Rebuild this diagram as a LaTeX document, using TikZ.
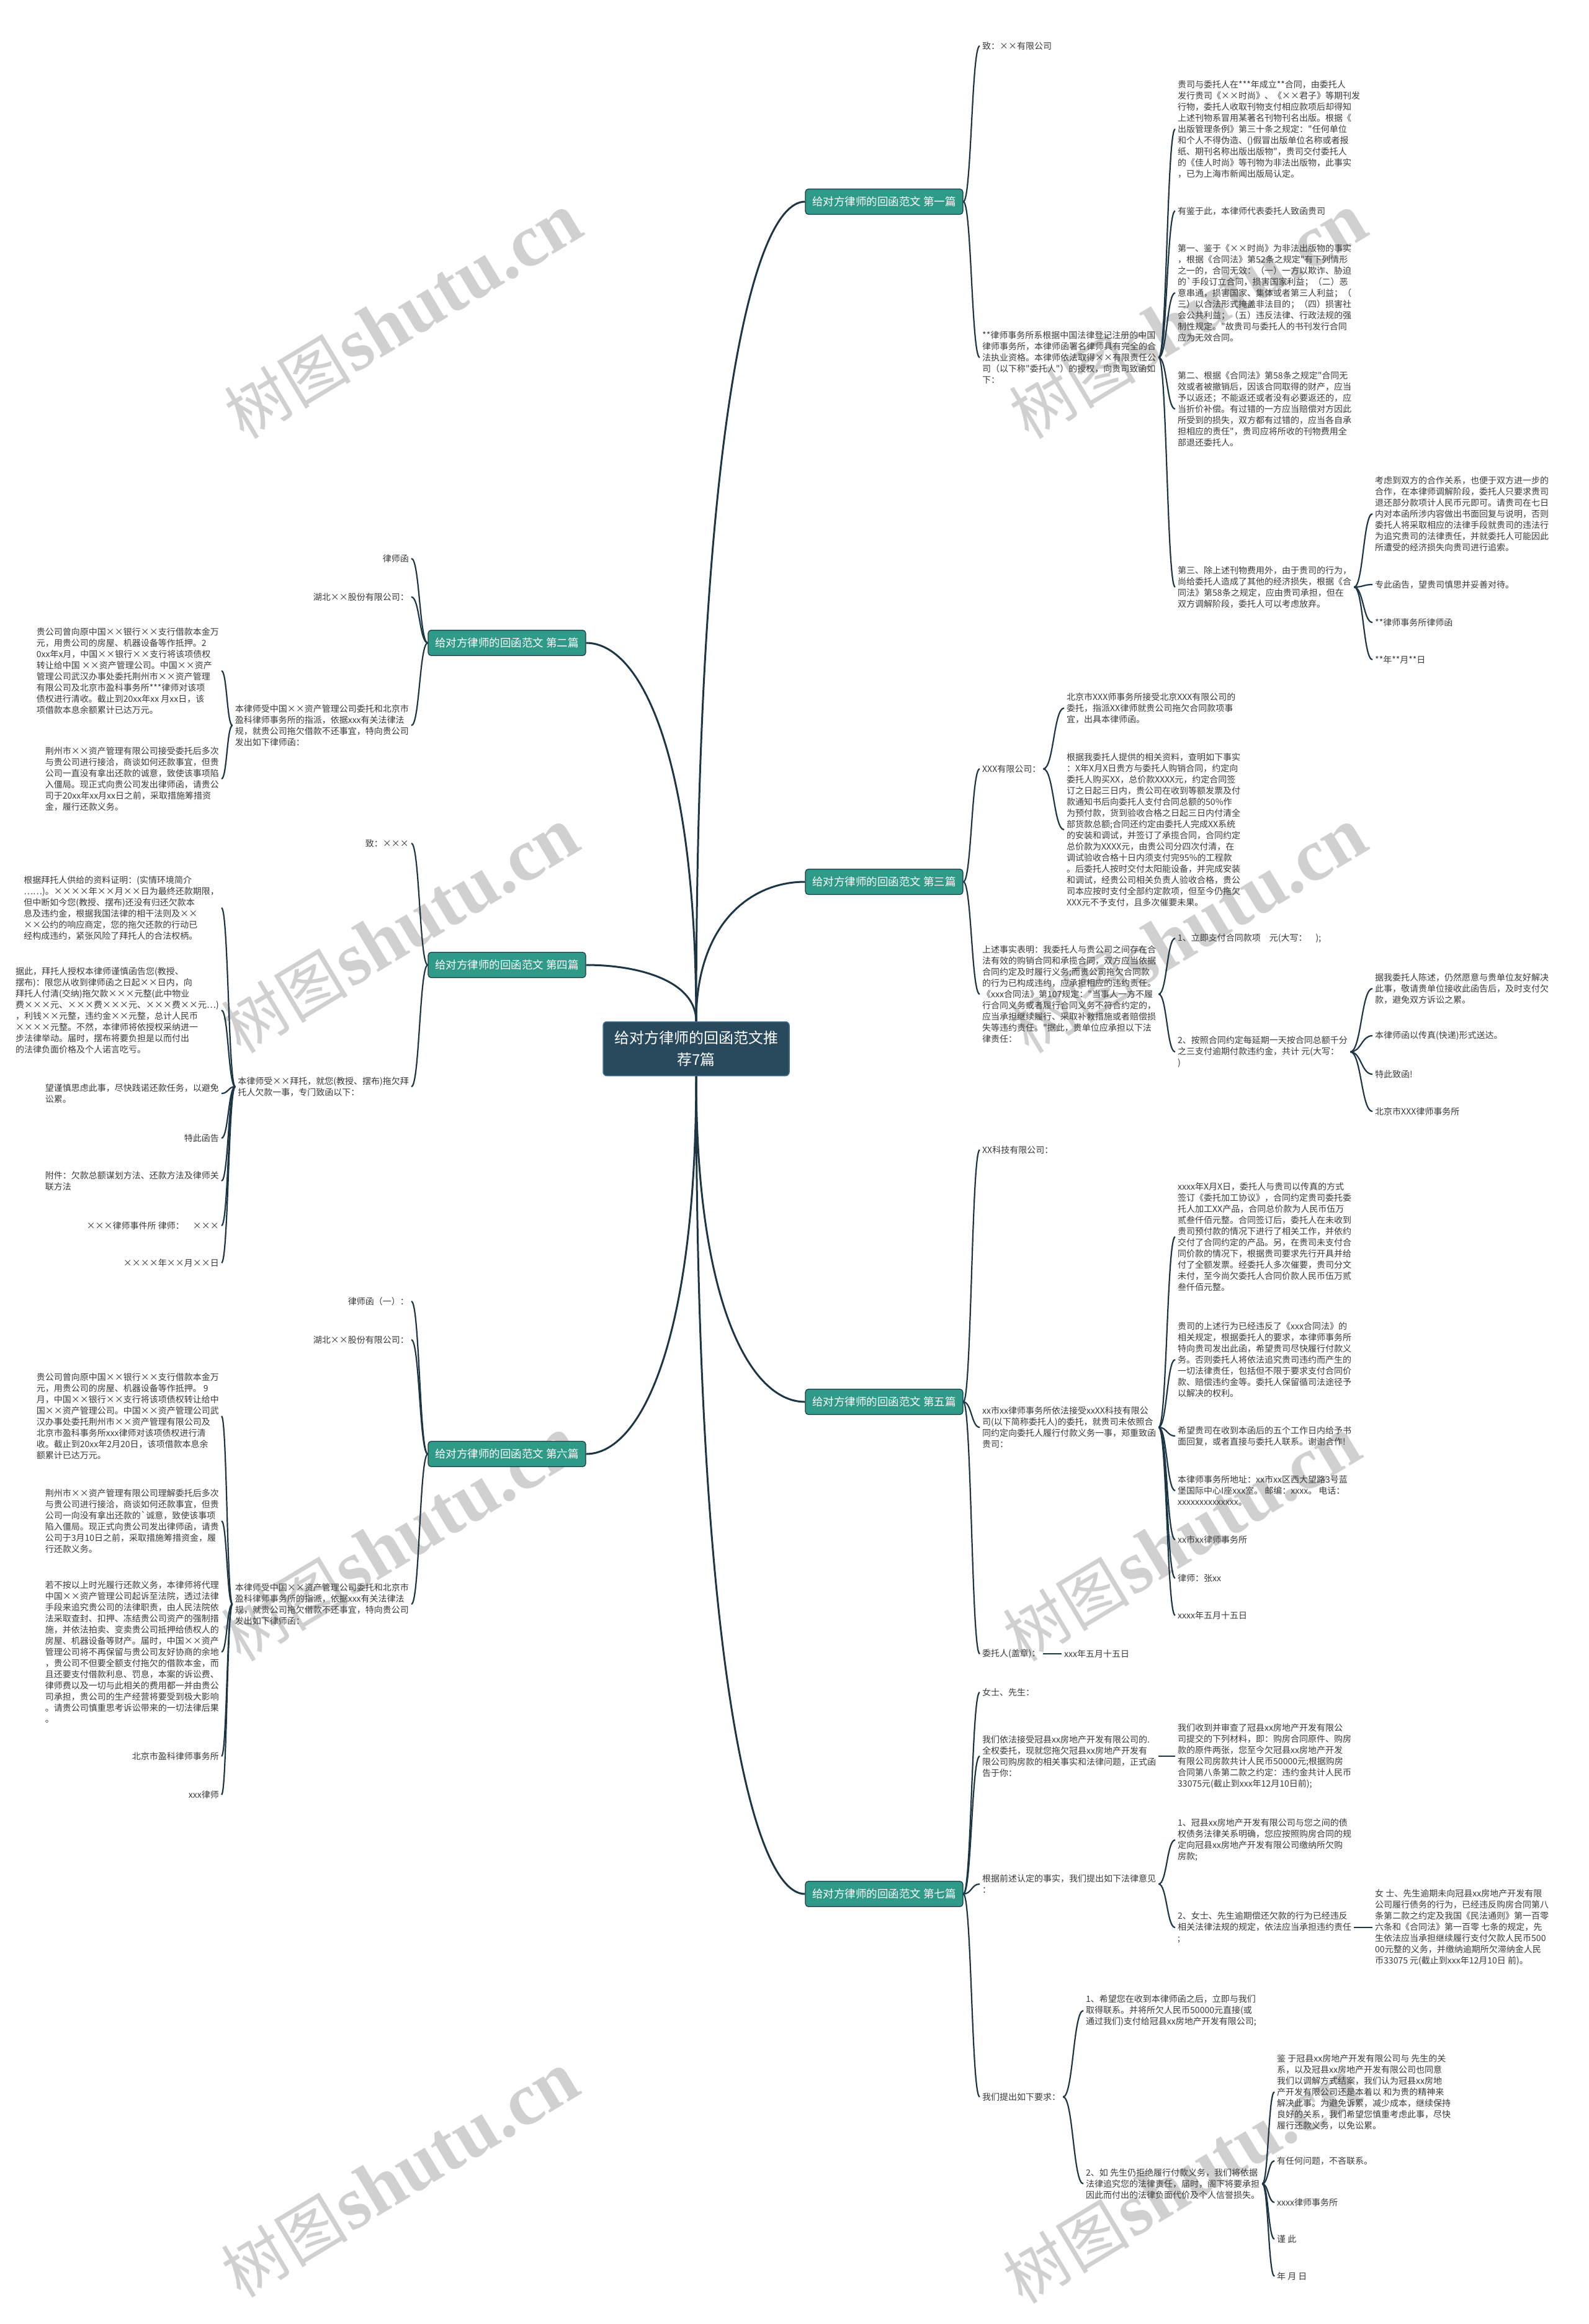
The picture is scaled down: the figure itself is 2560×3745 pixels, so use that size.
\documentclass[tikz,border=0pt]{standalone}
\usepackage{fontspec}
\newfontfamily\cjk{Noto Sans CJK SC}
\newfontfamily\wmserif{Liberation Serif}
\usetikzlibrary{calc}
\definecolor{lineC}{HTML}{1C3645}
\definecolor{cnode}{HTML}{294A5D}
\definecolor{cborder}{HTML}{3F6F96}
\definecolor{bnode}{HTML}{2F9A87}
\definecolor{textC}{HTML}{3A3A3A}
\definecolor{wmC}{HTML}{D0D0D0}
\tikzset{
  centernode/.style={fill=cnode, draw=cborder, line width=1.5pt, rounded corners=6pt, text=white,
    font=\cjk\fontsize{24}{35}\selectfont, align=center, minimum width=300pt, minimum height=87pt, inner sep=0pt},
  branchnode/.style={fill=bnode, draw=lineC, line width=1.2pt, rounded corners=5pt, text=white,
    font=\cjk\fontsize{17.5}{20}\selectfont, minimum width=254pt, minimum height=41pt, inner sep=0pt},
  txt/.style={font=\cjk\fontsize{14}{18}\selectfont, align=left, inner sep=4pt, text=textC},
  rt/.style={txt, anchor=west},
  lt/.style={txt, anchor=east},
  mainlink/.style={draw=lineC, line width=3pt},
  sublink/.style={draw=lineC, line width=2.2pt},
  wm/.style={text=wmC, rotate=31, inner sep=0pt}
}
\newcommand\mlink[2]{\draw[mainlink] (#1) .. controls ($(#1)!0.7!(#1|-#2)$) and ($(#2)!0.5!(#1|-#2)$) .. (#2);}
\newcommand\slink[2]{\draw[sublink] (#1) .. controls ($(#1)!0.5!(#1-|#2)$) and ($(#2)!0.5!(#2-|#1)$) .. (#2);}
\begin{document}
\begin{tikzpicture}[x=1pt,y=-1pt]
\fill[white] (0,0) rectangle (2560,3745);
\useasboundingbox (0,0) rectangle (2560,3745);
% watermarks
\foreach \wx/\wy in {650/510, 1915/510, 645/1500, 1915/1500, 645/2480, 1905/2480, 645/3505, 1905/3515}{
  \node[wm] at (\wx,\wy) {{\cjk\fontsize{102}{106}\selectfont 树图} {\wmserif\bfseries\fontsize{120}{120}\selectfont shutu.cn}};
}
% center and branches
\node[centernode] (C) at (1122,1690) {给对方律师的回函范文推\\荐7篇};
\node[branchnode] (B1) at (1425,325) {给对方律师的回函范文 第一篇};
\node[branchnode] (B3) at (1425,1421) {给对方律师的回函范文 第三篇};
\node[branchnode] (B5) at (1425,2259) {给对方律师的回函范文 第五篇};
\node[branchnode] (B7) at (1425,3052) {给对方律师的回函范文 第七篇};
\node[branchnode] (B2) at (817,1036) {给对方律师的回函范文 第二篇};
\node[branchnode] (B4) at (817,1555) {给对方律师的回函范文 第四篇};
\node[branchnode] (B6) at (817,2343) {给对方律师的回函范文 第六篇};
\mlink{C.north}{B1.west}
\mlink{C.north}{B3.west}
\mlink{C.south}{B5.west}
\mlink{C.south}{B7.west}
\mlink{C.north}{B2.east}
\mlink{C.north}{B4.east}
\mlink{C.south}{B6.east}
% ===== 第一篇 =====
\node[rt] (n1a) at (1579,74) {致：××有限公司};
\node[rt] (n1b) at (1579,576) {**律师事务所系根据中国法律登记注册的中国\\律师事务所，本律师函署名律师具有完全的合\\法执业资格。本律师依法取得××有限责任公\\司（以下称"委托人"）的授权，向贵司致函如\\下：};
\slink{B1.east}{n1a.west}
\slink{B1.east}{n1b.west}
\node[rt] (c1) at (1894,208) {贵司与委托人在***年成立**合同，由委托人\\发行贵司《××时尚》、《××君子》等期刊发\\行物，委托人收取刊物支付相应款项后却得知\\上述刊物系冒用某著名刊物刊名出版。根据《\\出版管理条例》第三十条之规定："任何单位\\和个人不得伪造、()假冒出版单位名称或者报\\纸、期刊名称出版出版物"，贵司交付委托人\\的《佳人时尚》等刊物为非法出版物，此事实\\，已为上海市新闻出版局认定。};
\node[rt] (c2) at (1894,340) {有鉴于此，本律师代表委托人致函贵司};
\node[rt] (c3) at (1894,472) {第一、鉴于《××时尚》为非法出版物的事实\\，根据《合同法》第52条之规定"有下列情形\\之一的，合同无效：（一）一方以欺诈、胁迫\\的`手段订立合同，损害国家利益；（二）恶\\意串通，损害国家、集体或者第三人利益；（\\三）以合法形式掩盖非法目的；（四）损害社\\会公共利益；（五）违反法律、行政法规的强\\制性规定。"故贵司与委托人的书刊发行合同\\应为无效合同。};
\node[rt] (c4) at (1894,659) {第二、根据《合同法》第58条之规定"合同无\\效或者被撤销后，因该合同取得的财产，应当\\予以返还；不能返还或者没有必要返还的，应\\当折价补偿。有过错的一方应当赔偿对方因此\\所受到的损失，双方都有过错的，应当各自承\\担相应的责任"，贵司应将所收的刊物费用全\\部退还委托人。};
\node[rt] (c5) at (1894,946) {第三、除上述刊物费用外，由于贵司的行为，\\尚给委托人造成了其他的经济损失，根据《合\\同法》第58条之规定，应由贵司承担，但在\\双方调解阶段，委托人可以考虑放弃。};
\foreach \k in {c1,c2,c3,c4,c5}{\slink{n1b.east}{\k.west}}
\node[rt] (d1) at (2212,828) {考虑到双方的合作关系，也便于双方进一步的\\合作，在本律师调解阶段，委托人只要求贵司\\退还部分款项计人民币元即可。请贵司在七日\\内对本函所涉内容做出书面回复与说明，否则\\委托人将采取相应的法律手段就贵司的违法行\\为追究贵司的法律责任，并就委托人可能因此\\所遭受的经济损失向贵司进行追索。};
\node[rt] (d2) at (2212,942) {专此函告，望贵司慎思并妥善对待。};
\node[rt] (d3) at (2212,1003) {**律师事务所律师函};
\node[rt] (d4) at (2212,1063) {**年**月**日};
\foreach \k in {d1,d2,d3,d4}{\slink{c5.east}{\k.west}}
% ===== 第三篇 =====
\node[rt] (e1) at (1579,1239) {XXX有限公司：};
\node[rt] (e2) at (1579,1602) {上述事实表明：我委托人与贵公司之间存在合\\法有效的购销合同和承揽合同，双方应当依据\\合同约定及时履行义务;而贵公司拖欠合同款\\的行为已构成违约，应承担相应的违约责任。\\《xxx合同法》第107规定："当事人一方不履\\行合同义务或者履行合同义务不符合约定的，\\应当承担继续履行、采取补救措施或者赔偿损\\失等违约责任。"据此，贵单位应承担以下法\\律责任：};
\slink{B3.east}{e1.west}
\slink{B3.east}{e2.west}
\node[rt] (f1) at (1715,1141) {北京市XXX师事务所接受北京XXX有限公司的\\委托，指派XX律师就贵公司拖欠合同款项事\\宜，出具本律师函。};
\node[rt] (f2) at (1715,1337) {根据我委托人提供的相关资料，查明如下事实\\：X年X月X日贵方与委托人购销合同，约定向\\委托人购买XX，总价款XXXX元，约定合同签\\订之日起三日内，贵公司在收到等额发票及付\\款通知书后向委托人支付合同总额的50\%作\\为预付款，货到验收合格之日起三日内付清全\\部货款总额;合同还约定由委托人完成XX系统\\的安装和调试，并签订了承揽合同，合同约定\\总价款为XXXX元，由贵公司分四次付清，在\\调试验收合格十日内须支付完95\%的工程款\\。后委托人按时交付太阳能设备，并完成安装\\和调试，经贵公司相关负责人验收合格，贵公\\司本应按时支付全部约定款项，但至今仍拖欠\\XXX元不予支付，且多次催要未果。};
\slink{e1.east}{f1.west}
\slink{e1.east}{f2.west}
\node[rt] (g1) at (1894,1512) {1、立即支付合同款项\quad 元(大写：\quad );};
\node[rt] (g2) at (1894,1695) {2、按照合同约定每延期一天按合同总额千分\\之三支付逾期付款违约金，共计 元(大写：\\)};
\slink{e2.east}{g1.west}
\slink{e2.east}{g2.west}
\node[rt] (h1) at (2212,1593) {据我委托人陈述，仍然愿意与贵单位友好解决\\此事，敬请贵单位接收此函告后，及时支付欠\\款，避免双方诉讼之累。};
\node[rt] (h2) at (2212,1669) {本律师函以传真(快递)形式送达。};
\node[rt] (h3) at (2212,1731) {特此致函!};
\node[rt] (h4) at (2212,1791) {北京市XXX律师事务所};
\foreach \k in {h1,h2,h3,h4}{\slink{g2.east}{\k.west}}
% ===== 第五篇 =====
\node[rt] (i1) at (1579,1853) {XX科技有限公司：};
\node[rt] (i2) at (1579,2300) {xx市xx律师事务所依法接受xxXX科技有限公\\司(以下简称委托人)的委托，就贵司未依照合\\同约定向委托人履行付款义务一事，郑重致函\\贵司：};
\node[rt] (i3) at (1579,2665) {委托人(盖章)：};
\node[rt] (i3a) at (1711,2665) {xxx年五月十五日};
\slink{B5.east}{i1.west}
\slink{B5.east}{i2.west}
\slink{B5.east}{i3.west}
\draw[sublink] (i3.east) -- (i3a.west);
\node[rt] (j1) at (1894,1993) {xxxx年X月X日，委托人与贵司以传真的方式\\签订《委托加工协议》，合同约定贵司委托委\\托人加工XX产品，合同总价款为人民币伍万\\贰叁仟佰元整。合同签订后，委托人在未收到\\贵司预付款的情况下进行了相关工作，并依约\\交付了合同约定的产品。另，在贵司未支付合\\同价款的情况下，根据贵司要求先行开具并给\\付了全额发票。经委托人多次催要，贵司分文\\未付，至今尚欠委托人合同价款人民币伍万贰\\叁仟佰元整。};
\node[rt] (j2) at (1894,2191) {贵司的上述行为已经违反了《xxx合同法》的\\相关规定，根据委托人的要求，本律师事务所\\特向贵司发出此函，希望贵司尽快履行付款义\\务。否则委托人将依法追究贵司违约而产生的\\一切法律责任，包括但不限于要求支付合同价\\款、赔偿违约金等。委托人保留循司法途径予\\以解决的权利。};
\node[rt] (j3) at (1894,2314) {希望贵司在收到本函后的五个工作日内给予书\\面回复，或者直接与委托人联系。谢谢合作!};
\node[rt] (j4) at (1894,2402) {本律师事务所地址：xx市xx区西大望路3号蓝\\堡国际中心I座xxx室。 邮编：xxxx。 电话：\\xxxxxxxxxxxxxx。};
\node[rt] (j5) at (1894,2481) {xx市xx律师事务所};
\node[rt] (j6) at (1894,2543) {律师：张xx};
\node[rt] (j7) at (1894,2603) {xxxx年五月十五日};
\foreach \k in {j1,j2,j3,j4,j5,j6,j7}{\slink{i2.east}{\k.west}}
% ===== 第七篇 =====
\node[rt] (k1) at (1579,2727) {女士、先生：};
\node[rt] (k2) at (1579,2830) {我们依法接受冠县xx房地产开发有限公司的.\\全权委托，现就您拖欠冠县xx房地产开发有\\限公司购房款的相关事实和法律问题，正式函\\告于你：};
\node[rt] (k2a) at (1894,2830) {我们收到并审查了冠县xx房地产开发有限公\\司提交的下列材料，即：购房合同原件、购房\\款的原件两张，您至今欠冠县xx房地产开发\\有限公司房款共计人民币50000元;根据购房\\合同第八条第二款之约定：违约金共计人民币\\33075元(截止到xxx年12月10日前);};
\node[rt] (k3) at (1579,3036) {根据前述认定的事实，我们提出如下法律意见\\：};
\node[rt] (k4) at (1579,3379) {我们提出如下要求：};
\foreach \k in {k1,k2,k3,k4}{\slink{B7.east}{\k.west}}
\draw[sublink] (k2.east) -- (k2a.west);
\node[rt] (l1) at (1894,2965) {1、冠县xx房地产开发有限公司与您之间的债\\权债务法律关系明确，您应按照购房合同的规\\定向冠县xx房地产开发有限公司缴纳所欠购\\房款;};
\node[rt] (l2) at (1894,3106) {2、女士、先生逾期偿还欠款的行为已经违反\\相关法律法规的规定，依法应当承担违约责任\\;};
\node[rt] (l2a) at (2212,3106) {女 士、先生逾期未向冠县xx房地产开发有限\\公司履行债务的行为，已经违反购房合同第八\\条第二款之约定及我国《民法通则》第一百零\\六条和《合同法》第一百零 七条的规定，先\\生依法应当承担继续履行支付欠款人民币500\\00元整的义务，并缴纳逾期所欠滞纳金人民\\币33075 元(截止到xxx年12月10日 前)。};
\slink{k3.east}{l1.west}
\slink{k3.east}{l2.west}
\draw[sublink] (l2.east) -- (l2a.west);
\node[rt] (m1) at (1746,3240) {1、希望您在收到本律师函之后，立即与我们\\取得联系。并将所欠人民币50000元直接(或\\通过我们)支付给冠县xx房地产开发有限公司;};
\node[rt] (m2) at (1746,3519) {2、如 先生仍拒绝履行付款义务，我们将依据\\法律追究您的法律责任，届时，阁下将要承担\\因此而付出的法律负面代价及个人信誉损失。};
\slink{k4.east}{m1.west}
\slink{k4.east}{m2.west}
\node[rt] (p71) at (2054,3371) {鉴 于冠县xx房地产开发有限公司与 先生的关\\系，以及冠县xx房地产开发有限公司也同意\\我们以调解方式结案，我们认为冠县xx房地\\产开发有限公司还是本着以 和为贵的精神来\\解决此事。为避免诉累，减少成本，继续保持\\良好的关系，我们希望您慎重考虑此事，尽快\\履行还款义务，以免讼累。};
\node[rt] (p72) at (2054,3482) {有任何问题，不吝联系。};
\node[rt] (p73) at (2054,3549) {xxxx律师事务所};
\node[rt] (p74) at (2054,3608) {谨 此};
\node[rt] (p75) at (2054,3668) {年 月 日};
\foreach \k in {p71,p72,p73,p74,p75}{\slink{m2.east}{\k.west}}
% ===== 第二篇 =====
\node[lt] (o1) at (663,900) {律师函};
\node[lt] (o2) at (663,962) {湖北××股份有限公司：};
\node[lt] (o3) at (663,1169) {本律师受中国××资产管理公司委托和北京市\\盈科律师事务所的指派，依据xxx有关法律法\\规，就贵公司拖欠借款不还事宜，特向贵公司\\发出如下律师函：};
\foreach \k in {o1,o2,o3}{\slink{B2.west}{\k.east}}
\node[lt] (p1) at (357,1081) {贵公司曾向原中国××银行××支行借款本金万\\元，用贵公司的房屋、机器设备等作抵押。2\\0xx年x月，中国××银行××支行将该项债权\\转让给中国 ××资产管理公司。中国××资产\\管理公司武汉办事处委托荆州市××资产管理\\有限公司及北京市盈科事务所***律师对该项\\债权进行清收。截止到20xx年xx 月xx日，该\\项借款本息余额累计已达万元。};
\node[lt] (p2) at (357,1255) {荆州市××资产管理有限公司接受委托后多次\\与贵公司进行接洽，商谈如何还款事宜，但贵\\公司一直没有拿出还款的诚意，致使该事项陷\\入僵局。现正式向贵公司发出律师函，请贵公\\司于20xx年xx月xx日之前，采取措施筹措资\\金，履行还款义务。};
\slink{o3.west}{p1.east}
\slink{o3.west}{p2.east}
% ===== 第四篇 =====
\node[lt] (q1) at (663,1359) {致：×××};
\node[lt] (q2) at (663,1751) {本律师受××拜托，就您(教授、摆布)拖欠拜\\托人欠款一事，专门致函以下：};
\slink{B4.west}{q1.east}
\slink{B4.west}{q2.east}
\node[lt] (r1) at (357,1463) {根据拜托人供给的资料证明：(实情环境简介\\……)。××××年××月××日为最终还款期限，\\但中断如今您(教授、摆布)还没有归还欠款本\\息及违约金，根据我国法律的相干法则及××\\××公约的响应商定，您的拖欠还款的行动已\\经构成违约，紧张风险了拜托人的合法权柄。};
\node[lt] (r2) at (357,1628) {据此，拜托人授权本律师谨慎函告您(教授、\\摆布)：限您从收到律师函之日起××日内，向\\拜托人付清(交纳)拖欠款×××元整(此中物业\\费×××元、×××费×××元、×××费××元…)\\，利钱××元整，违约金××元整，总计人民币\\××××元整。不然，本律师将依授权采纳进一\\步法律举动。届时，摆布将要负担是以而付出\\的法律负面价格及个人诺言吃亏。};
\node[lt] (r3) at (357,1762) {望谨慎思虑此事，尽快践诺还款任务，以避免\\讼累。};
\node[lt] (r4) at (357,1834) {特此函告};
\node[lt] (r5) at (357,1903) {附件：欠款总额谋划方法、还款方法及律师关\\联方法};
\node[lt] (r6) at (357,1975) {×××律师事件所 律师：\quad ×××};
\node[lt] (r7) at (357,2035) {××××年××月××日};
\foreach \k in {r1,r2,r3,r4,r5,r6,r7}{\slink{q2.west}{\k.east}}
% ===== 第六篇 =====
\node[lt] (s1) at (663,2097) {律师函（一）：};
\node[lt] (s2) at (663,2159) {湖北××股份有限公司：};
\node[lt] (s3) at (663,2585) {本律师受中国××资产管理公司委托和北京市\\盈科律师事务所的指派，依据xxx有关法律法\\规，就贵公司拖欠借款不还事宜，特向贵公司\\发出如下律师函：};
\foreach \k in {s1,s2,s3}{\slink{B6.west}{\k.east}}
\node[lt] (t1) at (357,2282) {贵公司曾向原中国××银行××支行借款本金万\\元，用贵公司的房屋、机器设备等作抵押。 9\\月，中国××银行××支行将该项债权转让给中\\国××资产管理公司。中国××资产管理公司武\\汉办事处委托荆州市××资产管理有限公司及\\北京市盈科事务所xxx律师对该项债权进行清\\收。截止到20xx年2月20日，该项借款本息余\\额累计已达万元。};
\node[lt] (t2) at (357,2451) {荆州市××资产管理有限公司理解委托后多次\\与贵公司进行接洽，商谈如何还款事宜，但贵\\公司一向没有拿出还款的`诚意，致使该事项\\陷入僵局。现正式向贵公司发出律师函，请贵\\公司于3月10日之前，采取措施筹措资金，履\\行还款义务。};
\node[lt] (t3) at (357,2662) {若不按以上时光履行还款义务，本律师将代理\\中国××资产管理公司起诉至法院，透过法律\\手段来追究贵公司的法律职责，由人民法院依\\法采取查封、扣押、冻结贵公司资产的强制措\\施，并依法拍卖、变卖贵公司抵押给债权人的\\房屋、机器设备等财产。届时，中国××资产\\管理公司将不再保留与贵公司友好协商的余地\\，贵公司不但要全额支付拖欠的借款本金，而\\且还要支付借款利息、罚息，本案的诉讼费、\\律师费以及一切与此相关的费用都一并由贵公\\司承担，贵公司的生产经营将要受到极大影响\\。请贵公司慎重思考诉讼带来的一切法律后果\\。};
\node[lt] (t4) at (357,2830) {北京市盈科律师事务所};
\node[lt] (t5) at (357,2892) {xxx律师};
\foreach \k in {t1,t2,t3,t4,t5}{\slink{s3.west}{\k.east}}
\end{tikzpicture}
\end{document}
